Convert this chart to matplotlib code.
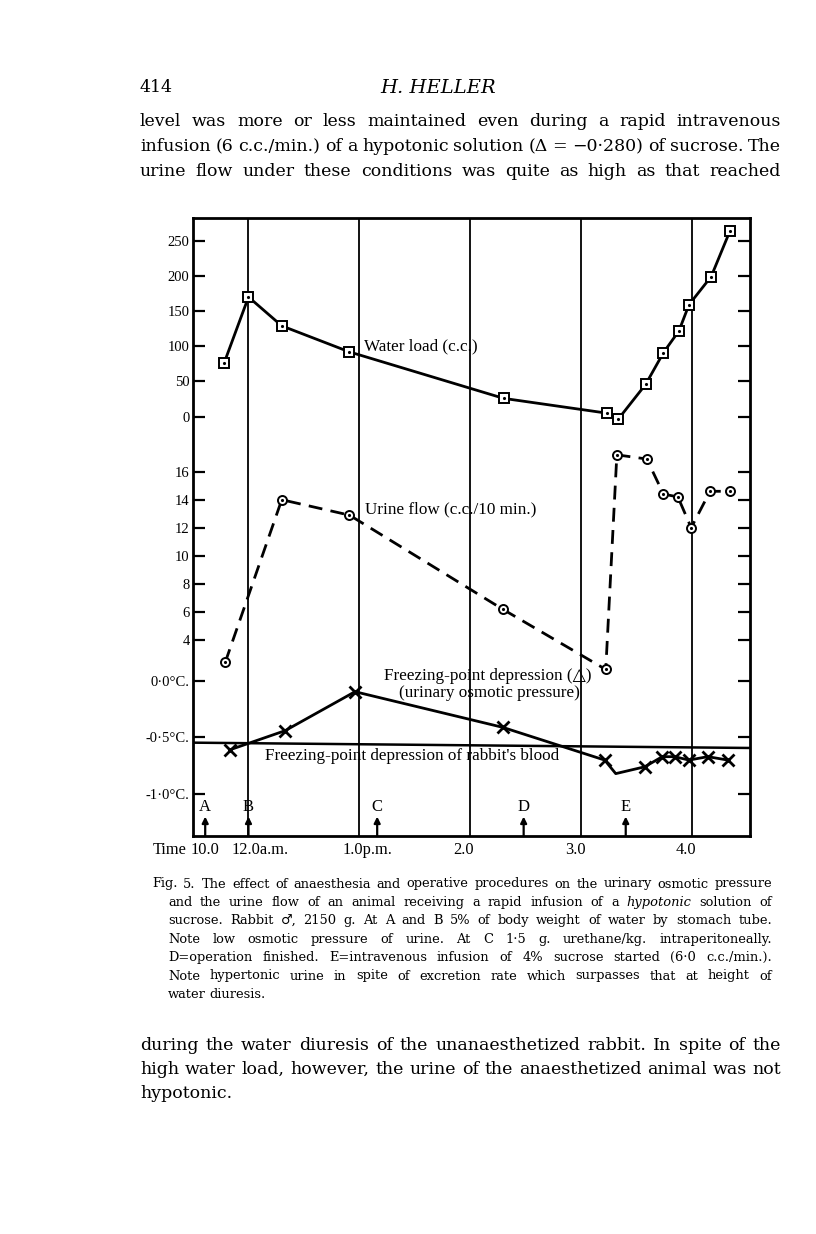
import matplotlib
matplotlib.use("Agg")
import matplotlib.pyplot as plt
from matplotlib.transforms import blended_transform_factory

plt.rcParams['font.family'] = ['Liberation Serif', 'DejaVu Sans']

# ---------------------------------------------------------------
# data (time in hours after 12.0 noon)
water_t = [-0.22, 0.0, 0.30, 0.91, 2.30, 3.23, 3.33, 3.58, 3.74, 3.88, 3.97, 4.17, 4.34]
water_cc = [76, 170, 129, 92, 26, 5, -4, 46, 91, 122, 159, 199, 264]

urine_t = [-0.21, 0.30, 0.91, 2.29, 3.22, 3.32, 3.59, 3.74, 3.87, 3.99, 4.16, 4.34]
urine_flow = [2.4, 14.0, 12.9, 6.2, 1.9, 17.2, 16.9, 14.4, 14.2, 12.0, 14.6, 14.6]

fpd_t = [-0.17, 0.33, 0.96, 2.29, 3.21, 3.31, 3.57, 3.73, 3.84, 3.97, 4.14, 4.32]
fpd_c = [-0.61, -0.44, -0.095, -0.41, -0.70, -0.82, -0.76, -0.67, -0.67, -0.70, -0.67, -0.70]
fpd_marked = [0, 1, 2, 3, 4, 6, 7, 8, 9, 10, 11]

blood_t = [-0.5, 4.52]
blood_c = [-0.546, -0.593]

event_labels = ['A', 'B', 'C', 'D', 'E']
event_t = [-0.39, 0.0, 1.16, 2.48, 3.40]

hour_t = [0, 1, 2, 3, 4]
hour_labels = ['12.0a.m.', '1.0p.m.', '2.0', '3.0', '4.0']
start_t = -0.39
start_label = '10.0'

water_ticks = [0, 50, 100, 150, 200, 250]
urine_ticks = [4, 6, 8, 10, 12, 14, 16]
temp_ticks = [0.0, -0.5, -1.0]
temp_labels = ['0·0°C.', '-0·5°C.', '-1·0°C.']

# page text
header_num = '414'
header_name = 'H. HELLER'
body_top = [
    'level was more or less maintained even during a rapid intravenous',
    'infusion (6 c.c./min.) of a hypotonic solution (Δ = −0·280) of sucrose. The',
    'urine flow under these conditions was quite as high as that reached',
]
caption = [
    'Fig. 5. The effect of anaesthesia and operative procedures on the urinary osmotic pressure',
    'and the urine flow of an animal receiving a rapid infusion of a _hypotonic solution of',
    'sucrose.  Rabbit ♂, 2150 g.  At A and B 5% of body weight of water by stomach tube.',
    'Note low osmotic pressure of urine.  At C 1·5 g. urethane/kg. intraperitoneally.',
    'D=operation finished.  E=intravenous infusion of 4% sucrose started (6·0 c.c./min.).',
    'Note hypertonic urine in spite of excretion rate which surpasses that at height of',
    'water diuresis.',
]
body_bottom = [
    'during the water diuresis of the unanaesthetized rabbit.  In spite of the',
    'high water load, however, the urine of the anaesthetized animal was not',
    'hypotonic.',
]

# ---------------------------------------------------------------
W, H = 816, 1234
fig = plt.figure(figsize=(W / 100, H / 100), dpi=100)
renderer = fig.canvas.get_renderer()
page_font = ['DejaVu Serif', 'DejaVu Sans']


def fx(px):
    return px / W


def fy(py):
    return 1 - py / H


def put_line(text, x0, x1, y, size, justify=True):
    items = []
    for w in text.split():
        style = 'normal'
        if w.startswith('_'):
            w, style = w[1:], 'italic'
        items.append(fig.text(0, fy(y), w, fontsize=size, fontstyle=style,
                              family=page_font, va='center', ha='left'))
    widths = [t.get_window_extent(renderer).width for t in items]
    gap = size * 100 / 72 * 0.3
    if justify and len(items) > 1:
        gap = (x1 - x0 - sum(widths)) / (len(items) - 1)
    x = x0
    for t, w in zip(items, widths):
        t.set_x(fx(x))
        x += w + gap


fig.text(fx(140), fy(88), header_num, fontsize=12.5, family=page_font, va='center')
fig.text(fx(438), fy(88), header_name, fontsize=14, family=page_font,
         fontstyle='italic', va='center', ha='center')

for i, line in enumerate(body_top):
    put_line(line, 140, 781, 122 + i * 24.5, 12.5)

for i, line in enumerate(caption):
    x0 = 152 if i == 0 else 168
    put_line(line, x0, 772, 884 + i * 18.4, 9.4, justify=i < len(caption) - 1)

for i, line in enumerate(body_bottom):
    put_line(line, 140, 781, 1045 + i * 24.5, 12.5, justify=i < len(body_bottom) - 1)

# ---------------------------------------------------------------
# chart: one frame, three stacked scales sharing it
pos = [fx(193), fy(836), 557 / W, 618 / H]
xlim = (-0.5, 4.52)

ax = fig.add_axes(pos)
ax.set_xlim(*xlim)
ax.set_ylim(0, 1)
ax.set_xticks([])
ax.set_yticks([])
for s in ax.spines.values():
    s.set_linewidth(2.0)
for h in hour_t:
    ax.axvline(h, color='black', lw=1.3)

tr = blended_transform_factory(ax.transData, ax.transAxes)
ax.text(start_t, -0.023, start_label, transform=tr, ha='center', va='center', fontsize=11.8)
ax.text(start_t - 0.17, -0.023, 'Time', transform=tr, ha='right', va='center', fontsize=11.8)
for h, lab in zip(hour_t, hour_labels):
    ax.text(h - 0.15, -0.023, lab, transform=tr, ha='left', va='center', fontsize=11.8)


def layer(ylim, ticks, labels):
    a = fig.add_axes(pos)
    a.patch.set_visible(False)
    for s in a.spines.values():
        s.set_visible(False)
    a.set_xlim(*xlim)
    a.set_ylim(*ylim)
    a.set_xticks([])
    a.set_yticks(ticks)
    a.set_yticklabels(labels)
    a.tick_params(axis='y', direction='in', length=8.5, width=1.6, left=True,
                  right=True, labelleft=True, labelright=False, pad=2.5, labelsize=10.5)
    return a


axw = layer((-595.6, 282.2), water_ticks, [str(v) for v in water_ticks])
axu = layer((-9.97, 34.08), urine_ticks, [str(v) for v in urine_ticks])
axt = layer((-1.372, 4.097), temp_ticks, temp_labels)

# water load
axw.plot(water_t, water_cc, color='black', lw=2.0, marker='s', ms=7,
         mfc='white', mec='black', mew=1.4)
axw.plot(water_t, water_cc, ls='none', marker='.', ms=2.5, color='black')
axw.text(1.04, 100, 'Water load (c.c.)', ha='left', va='center', fontsize=12.3)

# urine flow
axu.plot(urine_t, urine_flow, color='black', lw=2.0, dashes=(5, 3), marker='o', ms=6.5,
         mfc='white', mec='black', mew=1.4)
axu.plot(urine_t, urine_flow, ls='none', marker='.', ms=2.5, color='black')
axu.text(1.05, 13.3, 'Urine flow (c.c./10 min.)', ha='left', va='center', fontsize=12.3)

# freezing-point depression
axt.plot(blood_t, blood_c, color='black', lw=1.8)
axt.plot(fpd_t, fpd_c, color='black', lw=2.0, marker='x', ms=8, mew=2.0,
         markevery=fpd_marked)
axt.text(2.16, 0.04, 'Freezing-point depression (△)', ha='center', va='center', fontsize=12.3)
axt.text(2.17, -0.108, '(urinary osmotic pressure)', ha='center', va='center', fontsize=12.3)
axt.text(1.475, -0.66, "Freezing-point depression of rabbit's blood", ha='center',
         va='center', fontsize=12.3)

for lab, t in zip(event_labels, event_t):
    axt.annotate('', xy=(t, -1.2), xytext=(t, -1.372),
                 arrowprops=dict(arrowstyle='-|>', color='black', lw=1.6,
                                 mutation_scale=9, shrinkA=0, shrinkB=0))
    axt.text(t, -1.115, lab, ha='center', va='center', fontsize=12)

fig.savefig('out.png', dpi=100)
